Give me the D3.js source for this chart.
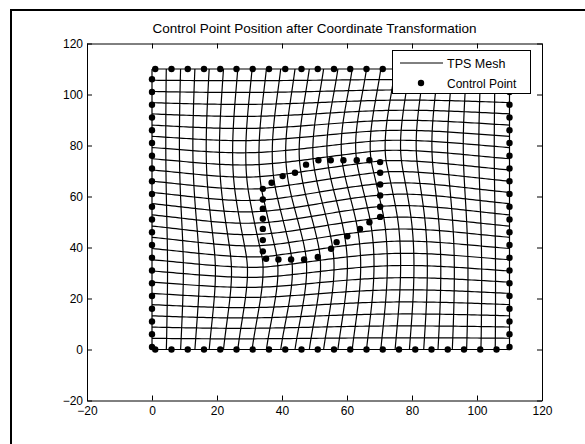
<!DOCTYPE html>
<html>
<head>
<meta charset="utf-8">
<script src="https://cdn.jsdelivr.net/npm/d3@7"></script>
<style>
  body { margin: 0; background: #fff; }
  text { font-family: "Liberation Sans", Arial, sans-serif; fill: #000; }
</style>
</head>
<body>
<svg width="585" height="444"></svg>
<script>
// tick values shared by both axes
var ticks = [-20, 0, 20, 40, 60, 80, 100, 120];

// positions of the mesh lines (before warping)
var meshLines = [0, 4.4, 8.8, 13.2, 17.6, 22, 26.4, 30.8, 35.2, 39.6, 44, 48.4, 52.8,
                 57.2, 61.6, 66, 70.4, 74.8, 79.2, 83.6, 88, 92.4, 96.8, 101.2, 105.6, 110];

// fixed control points along the border of the mesh
var edgeSteps = [1, 6, 11, 16, 21, 26, 31, 36, 41, 46, 51, 56, 61, 66, 71, 76, 81, 86, 91, 96, 101, 106];
var edgeLow = 0, edgeHigh = 110;

// inner ring of control points (after transformation)
var ringX = [47.4, 51.2, 55.0, 58.9, 63.0, 66.9, 70.2, 70.2, 70.2, 70.2, 70.2, 70.2,
             66.9, 64.0, 60.1, 56.8, 55.1, 51.0, 46.8, 42.8, 38.9, 35.1,
             34.1, 34.1, 34.1, 34.1, 34.1, 34.1, 34.1, 36.8, 40.2, 44.0];
var ringY = [72.5, 74.2, 74.2, 74.2, 74.2, 74.2, 73.5, 69.3, 64.7, 60.4, 56.0, 52.0,
             49.9, 47.3, 44.4, 42.1, 39.5, 36.3, 35.3, 35.3, 35.3, 35.6,
             38.5, 42.9, 47.3, 51.3, 55.2, 58.8, 63.0, 65.4, 68.0, 69.3];
// the ring was turned counter-clockwise by about this much
var ringTurnDeg = 10;

var svg = d3.select("svg");
svg.append("rect").attr("width", 585).attr("height", 444).attr("fill", "#fff");

// frame around the figure
svg.append("path")
    .attr("d", "M11,444V10H585")
    .attr("fill", "none")
    .attr("stroke", "#000")
    .attr("stroke-width", 2);

var x = d3.scaleLinear().domain([-20, 120]).range([87, 542]);
var y = d3.scaleLinear().domain([-20, 120]).range([400.5, 43.5]);

//control points: border ones stay where they are
var src = [], dst = [];
edgeSteps.forEach(function(s) {
    [[edgeLow, s], [s, edgeLow], [edgeHigh, s], [s, edgeHigh]].forEach(function(p) {
        src.push(p); dst.push(p);
    });
});
var cx = d3.mean(ringX), cy = d3.mean(ringY);
var a = -ringTurnDeg * Math.PI / 180;
ringX.forEach(function(rx, i) {
    var dx = rx - cx, dy = ringY[i] - cy;
    src.push([cx + dx * Math.cos(a) - dy * Math.sin(a), cy + dx * Math.sin(a) + dy * Math.cos(a)]);
    dst.push([rx, ringY[i]]);
});

// thin plate spline fit
function U(r2) { return r2 === 0 ? 0 : r2 * Math.log(r2); }
var n = src.length, m = n + 3;
var L = [];
for (var i = 0; i < m; i++) {
    L.push(new Array(m + 2).fill(0));
}
for (var i = 0; i < n; i++) {
    for (var j = 0; j < n; j++) {
        var ddx = src[i][0] - src[j][0], ddy = src[i][1] - src[j][1];
        L[i][j] = U(ddx * ddx + ddy * ddy);
    }
    L[i][n] = 1; L[i][n + 1] = src[i][0]; L[i][n + 2] = src[i][1];
    L[n][i] = 1; L[n + 1][i] = src[i][0]; L[n + 2][i] = src[i][1];
    L[i][m] = dst[i][0]; L[i][m + 1] = dst[i][1];
}
// gaussian elimination with pivoting
for (var c = 0; c < m; c++) {
    var piv = c;
    for (var r = c + 1; r < m; r++) if (Math.abs(L[r][c]) > Math.abs(L[piv][c])) piv = r;
    var tmp = L[c]; L[c] = L[piv]; L[piv] = tmp;
    for (var r = 0; r < m; r++) {
        if (r === c) continue;
        var f = L[r][c] / L[c][c];
        if (f === 0) continue;
        for (var k = c; k < m + 2; k++) L[r][k] -= f * L[c][k];
    }
}
var coefX = L.map(function(row, i) { return row[m] / row[i]; });
var coefY = L.map(function(row, i) { return row[m + 1] / row[i]; });

function warp(px, py) {
    var fx = coefX[n] + coefX[n + 1] * px + coefX[n + 2] * py;
    var fy = coefY[n] + coefY[n + 1] * px + coefY[n + 2] * py;
    for (var i = 0; i < n; i++) {
        var ddx = px - src[i][0], ddy = py - src[i][1];
        var u = U(ddx * ddx + ddy * ddy);
        fx += coefX[i] * u; fy += coefY[i] * u;
    }
    return [fx, fy];
}

// mesh lines
var along = d3.range(edgeLow, edgeHigh + 0.001, 1);
var meshData = [];
meshLines.forEach(function(v) {
    meshData.push(along.map(function(t) { return warp(v, t); }));
    meshData.push(along.map(function(t) { return warp(t, v); }));
});

var line = d3.line()
    .x(function(d) { return x(d[0]); })
    .y(function(d) { return y(d[1]); });

svg.append("g").selectAll("path")
    .data(meshData)
    .enter()
    .append("path")
    .attr("d", line)
    .attr("fill", "none")
    .attr("stroke", "#000")
    .attr("stroke-width", 1.2);

// control points
svg.append("g").selectAll("circle")
    .data(dst)
    .enter()
    .append("circle")
    .attr("cx", function(d) { return x(d[0]); })
    .attr("cy", function(d) { return y(d[1]); })
    .attr("r", 3.2)
    .attr("fill", "#000");

// axes, matlab style box with inward ticks
var fontSize = "12px";
svg.append("g")
    .attr("transform", "translate(0," + y(-20) + ")")
    .call(d3.axisBottom(x).tickValues(ticks).tickSize(-5).tickSizeOuter(0).tickPadding(6));
svg.append("g")
    .attr("transform", "translate(" + x(-20) + ",0)")
    .call(d3.axisLeft(y).tickValues(ticks).tickSize(-5).tickSizeOuter(0).tickPadding(4));
svg.append("g")
    .attr("transform", "translate(0," + y(120) + ")")
    .call(d3.axisTop(x).tickValues(ticks).tickSize(-5).tickSizeOuter(0).tickFormat(""));
svg.append("g")
    .attr("transform", "translate(" + x(120) + ",0)")
    .call(d3.axisRight(y).tickValues(ticks).tickSize(-5).tickSizeOuter(0).tickFormat(""));
svg.selectAll(".tick text")
    .attr("font-family", "Liberation Sans, Arial, sans-serif")
    .attr("font-size", fontSize)
    .attr("fill", "#000");
svg.selectAll(".domain, .tick line").attr("stroke", "#000");

// title
svg.append("text")
    .attr("x", (x(-20) + x(120)) / 2)
    .attr("y", 33)
    .attr("text-anchor", "middle")
    .attr("font-size", "13.5px")
    .text("Control Point Position after Coordinate Transformation");

// legend
var leg = svg.append("g");
leg.append("rect")
    .attr("x", 392.5).attr("y", 50.5).attr("width", 138).attr("height", 43)
    .attr("fill", "#fff").attr("stroke", "#000");
leg.append("line")
    .attr("x1", 400).attr("x2", 443).attr("y1", 63).attr("y2", 63)
    .attr("stroke", "#000");
leg.append("circle").attr("cx", 421).attr("cy", 83).attr("r", 3.2).attr("fill", "#000");
leg.append("text").attr("x", 447).attr("y", 67.5).attr("font-size", "12.5px").text("TPS Mesh");
leg.append("text").attr("x", 447).attr("y", 87.5).attr("font-size", "12px").text("Control Point");
</script>
</body>
</html>
